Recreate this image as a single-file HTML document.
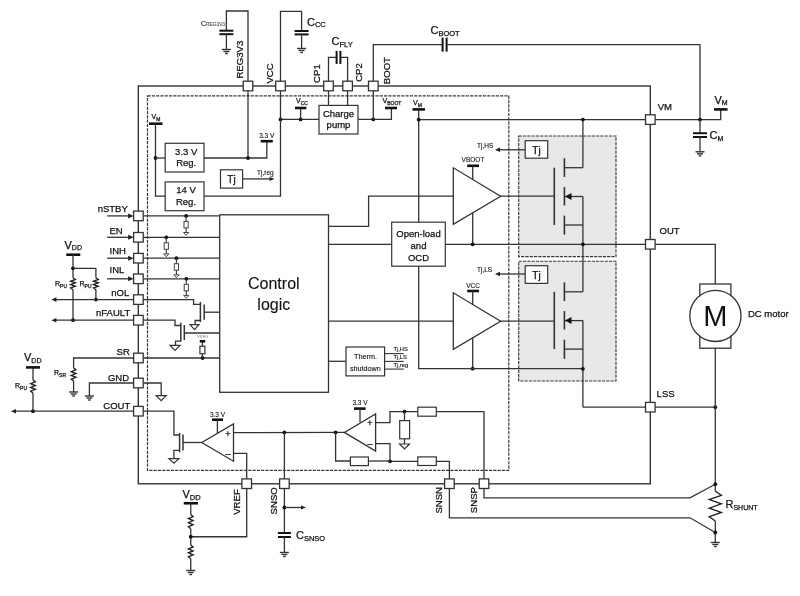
<!DOCTYPE html>
<html><head><meta charset="utf-8"><style>
html,body{margin:0;padding:0;background:#fff;width:800px;height:596px;overflow:hidden}
svg{display:block}
text{font-family:"Liberation Sans",sans-serif;stroke:#111;stroke-width:0.25px}
svg{will-change:transform}
</style></head><body>
<svg width="800" height="596" viewBox="0 0 800 596">
<rect x="518.7" y="136" width="97.29999999999995" height="120.60000000000002" fill="#e8e8e8" stroke="#3a3a3a" stroke-width="1.15" stroke-dasharray="3.2,1.1"/>
<rect x="518.7" y="261.2" width="97.29999999999995" height="119.80000000000001" fill="#e8e8e8" stroke="#3a3a3a" stroke-width="1.15" stroke-dasharray="3.2,1.1"/>
<rect x="147.5" y="95.8" width="361.3" height="374.59999999999997" fill="none" stroke="#3a3a3a" stroke-width="1.2" stroke-dasharray="3.2,1.1"/>
<rect x="138.3" y="86" width="511.99999999999994" height="397.8" fill="none" stroke="#333" stroke-width="1.4"/>
<polyline points="248,86 248,11 226.4,11 226.4,30.7" fill="none" stroke="#333" stroke-width="1.3"/>
<polyline points="219.4,30.7 233.4,30.7" fill="none" stroke="#111" stroke-width="2.0"/>
<polyline points="219.4,34.2 233.4,34.2" fill="none" stroke="#111" stroke-width="2.0"/>
<polyline points="226.4,34.2 226.4,49.5" fill="none" stroke="#333" stroke-width="1.3"/>
<polyline points="221.9,49.5 230.9,49.5" fill="none" stroke="#333" stroke-width="1.4"/>
<polyline points="223.43,51.5 229.37,51.5" fill="none" stroke="#333" stroke-width="1.4"/>
<polyline points="225.05,53.5 227.75,53.5" fill="none" stroke="#333" stroke-width="1.4"/>
<text x="201" y="26" font-size="7" text-anchor="start" fill="#111" style="stroke-width:0.1px">C<tspan font-size="4.8" dy="0" fill="#666">REG3V3</tspan></text>
<polyline points="280.5,86 280.5,11.4 301.6,11.4 301.6,31" fill="none" stroke="#333" stroke-width="1.3"/>
<polyline points="294.6,31 308.6,31" fill="none" stroke="#111" stroke-width="2.0"/>
<polyline points="294.6,34.4 308.6,34.4" fill="none" stroke="#111" stroke-width="2.0"/>
<polyline points="301.6,34.4 301.6,48.5" fill="none" stroke="#333" stroke-width="1.3"/>
<polyline points="297.1,48.5 306.1,48.5" fill="none" stroke="#333" stroke-width="1.4"/>
<polyline points="298.63,50.5 304.57000000000005,50.5" fill="none" stroke="#333" stroke-width="1.4"/>
<polyline points="300.25,52.5 302.95000000000005,52.5" fill="none" stroke="#333" stroke-width="1.4"/>
<text x="307" y="25.5" font-size="11" text-anchor="start" fill="#111">C<tspan font-size="7.5" dy="1.5">CC</tspan></text>
<polyline points="328.5,86 328.5,57.4 336.6,57.4" fill="none" stroke="#333" stroke-width="1.3"/>
<polyline points="336.6,50.9 336.6,63.9" fill="none" stroke="#111" stroke-width="2.0"/>
<polyline points="340.4,50.9 340.4,63.9" fill="none" stroke="#111" stroke-width="2.0"/>
<polyline points="340.4,57.4 347.6,57.4 347.6,86" fill="none" stroke="#333" stroke-width="1.3"/>
<text x="331.5" y="45.3" font-size="11" text-anchor="start" fill="#111">C<tspan font-size="7.5" dy="1.5">FLY</tspan></text>
<polyline points="373.3,86 373.3,44.6 442.6,44.6" fill="none" stroke="#333" stroke-width="1.3"/>
<polyline points="442.6,37.6 442.6,51.6" fill="none" stroke="#111" stroke-width="2.0"/>
<polyline points="446.6,37.6 446.6,51.6" fill="none" stroke="#111" stroke-width="2.0"/>
<polyline points="446.6,44.6 700,44.6 700,119.6" fill="none" stroke="#333" stroke-width="1.3"/>
<text x="430.5" y="33.5" font-size="11" text-anchor="start" fill="#111">C<tspan font-size="7.5" dy="2">BOOT</tspan></text>
<rect x="319" y="105.4" width="39" height="28.599999999999994" fill="#fff" stroke="#333" stroke-width="1.2"/>
<text x="338.5" y="117" font-size="9.5" text-anchor="middle" fill="#111" style="stroke-width:0.25px">Charge</text>
<text x="338.5" y="128.3" font-size="9.5" text-anchor="middle" fill="#111" style="stroke-width:0.25px">pump</text>
<polyline points="328.5,86 328.5,105.4" fill="none" stroke="#333" stroke-width="1.3"/>
<polyline points="347.6,86 347.6,105.4" fill="none" stroke="#333" stroke-width="1.3"/>
<polyline points="280.5,119.4 319,119.4" fill="none" stroke="#333" stroke-width="1.3"/>
<circle cx="280.5" cy="119.4" r="1.9" fill="#111"/>
<circle cx="300.6" cy="119.4" r="1.9" fill="#111"/>
<polyline points="300.6,119.4 300.6,108" fill="none" stroke="#333" stroke-width="1.3"/>
<polyline points="295,108 306.4,108" fill="none" stroke="#111" stroke-width="2.6"/>
<text x="296" y="103" font-size="7" text-anchor="start" fill="#111">V<tspan font-size="5" dy="2">CC</tspan></text>
<polyline points="358,119.4 391.4,119.4 391.4,108" fill="none" stroke="#333" stroke-width="1.3"/>
<polyline points="385,108 397,108" fill="none" stroke="#111" stroke-width="2.6"/>
<circle cx="373.3" cy="119.4" r="1.9" fill="#111"/>
<text x="382.5" y="103" font-size="7" text-anchor="start" fill="#111">V<tspan font-size="5" dy="2">BOOT</tspan></text>
<polyline points="373.3,86 373.3,119.4" fill="none" stroke="#333" stroke-width="1.3"/>
<polyline points="412.5,109.4 425,109.4" fill="none" stroke="#111" stroke-width="2.6"/>
<text x="413" y="104.5" font-size="7" text-anchor="start" fill="#111">V<tspan font-size="5" dy="2">M</tspan></text>
<polyline points="418.7,109.4 418.7,222.4" fill="none" stroke="#333" stroke-width="1.3"/>
<polyline points="418.7,119.6 650.3,119.6" fill="none" stroke="#333" stroke-width="1.3"/>
<circle cx="418.7" cy="119.6" r="1.9" fill="#111"/>
<polyline points="650.3,119.6 720.7,119.6 720.7,109.4" fill="none" stroke="#333" stroke-width="1.3"/>
<polyline points="714,109.4 727.5,109.4" fill="none" stroke="#111" stroke-width="2.6"/>
<circle cx="700" cy="119.6" r="1.9" fill="#111"/>
<text x="714.5" y="103.5" font-size="11" text-anchor="start" fill="#111">V<tspan font-size="7" dy="1.5">M</tspan></text>
<polyline points="700,119.6 700,133.2" fill="none" stroke="#333" stroke-width="1.3"/>
<polyline points="693.0,133.2 707.0,133.2" fill="none" stroke="#111" stroke-width="2.0"/>
<polyline points="693.0,137 707.0,137" fill="none" stroke="#111" stroke-width="2.0"/>
<polyline points="700,137 700,151.8" fill="none" stroke="#333" stroke-width="1.3"/>
<polyline points="695.5,151.8 704.5,151.8" fill="none" stroke="#333" stroke-width="1.4"/>
<polyline points="697.03,153.8 702.97,153.8" fill="none" stroke="#333" stroke-width="1.4"/>
<polyline points="698.65,155.8 701.35,155.8" fill="none" stroke="#333" stroke-width="1.4"/>
<text x="709.5" y="139" font-size="11" text-anchor="start" fill="#111">C<tspan font-size="7" dy="1.5">M</tspan></text>
<polyline points="280.5,86 280.5,196.2 204,196.2" fill="none" stroke="#333" stroke-width="1.3"/>
<polyline points="248,86 248,158" fill="none" stroke="#333" stroke-width="1.3"/>
<polyline points="149,123.7 162.5,123.7" fill="none" stroke="#111" stroke-width="2.6"/>
<text x="151.5" y="118.5" font-size="7" text-anchor="start" fill="#111">V<tspan font-size="5" dy="2">M</tspan></text>
<polyline points="155.5,123.7 155.5,196.2 165.2,196.2" fill="none" stroke="#333" stroke-width="1.3"/>
<circle cx="155.5" cy="158" r="1.9" fill="#111"/>
<polyline points="155.5,158 165.2,158" fill="none" stroke="#333" stroke-width="1.3"/>
<rect x="165.2" y="143.3" width="38.80000000000001" height="28.69999999999999" fill="#fff" stroke="#333" stroke-width="1.2"/>
<text x="186.2" y="154.7" font-size="9.5" text-anchor="middle" fill="#111" style="stroke-width:0.25px">3.3 V</text>
<text x="186.2" y="166.4" font-size="9.5" text-anchor="middle" fill="#111" style="stroke-width:0.25px">Reg.</text>
<rect x="165.2" y="181.9" width="38.80000000000001" height="28.799999999999983" fill="#fff" stroke="#333" stroke-width="1.2"/>
<text x="186" y="193.2" font-size="9.5" text-anchor="middle" fill="#111" style="stroke-width:0.25px">14 V</text>
<text x="186" y="205.4" font-size="9.5" text-anchor="middle" fill="#111" style="stroke-width:0.25px">Reg.</text>
<polyline points="204,158 266.8,158 266.8,141.2" fill="none" stroke="#333" stroke-width="1.3"/>
<circle cx="248" cy="158" r="1.9" fill="#111"/>
<polyline points="260.7,141.2 272.8,141.2" fill="none" stroke="#111" stroke-width="2.6"/>
<text x="266.8" y="138.2" font-size="6.5" text-anchor="middle" fill="#111" style="stroke-width:0.12px">3.3 V</text>
<rect x="220.5" y="169.8" width="22.099999999999994" height="18.299999999999983" fill="#fff" stroke="#333" stroke-width="1.2"/>
<text x="231.5" y="183" font-size="10" text-anchor="middle" fill="#111" style="stroke-width:0.25px">Tj</text>
<polyline points="242.6,178.9 270,178.9" fill="none" stroke="#333" stroke-width="1.3"/>
<polygon points="274.5,178.9 269.5,176.9 269.5,180.9" fill="#222"/>
<text x="257" y="174.5" font-size="6.5" text-anchor="start" fill="#111" style="stroke-width:0.12px">Tj,reg</text>
<polyline points="107.2,215.9 129,215.9" fill="none" stroke="#333" stroke-width="1.3"/>
<polygon points="133.6,215.9 128.1,213.4 128.1,218.4" fill="#222"/>
<polyline points="107.2,237.3 129,237.3" fill="none" stroke="#333" stroke-width="1.3"/>
<polygon points="133.6,237.3 128.1,234.8 128.1,239.8" fill="#222"/>
<polyline points="107.2,258.2 129,258.2" fill="none" stroke="#333" stroke-width="1.3"/>
<polygon points="133.6,258.2 128.1,255.7 128.1,260.7" fill="#222"/>
<polyline points="107.2,278.8 129,278.8" fill="none" stroke="#333" stroke-width="1.3"/>
<polygon points="133.6,278.8 128.1,276.3 128.1,281.3" fill="#222"/>
<polyline points="143.20000000000002,215.9 219.7,215.9" fill="none" stroke="#333" stroke-width="1.3"/>
<polyline points="143.20000000000002,237.3 219.7,237.3" fill="none" stroke="#333" stroke-width="1.3"/>
<polyline points="143.20000000000002,258.2 219.7,258.2" fill="none" stroke="#333" stroke-width="1.3"/>
<polyline points="143.20000000000002,278.8 219.7,278.8" fill="none" stroke="#333" stroke-width="1.3"/>
<polyline points="143.20000000000002,358 219.7,358" fill="none" stroke="#333" stroke-width="1.3"/>
<circle cx="186.1" cy="215.9" r="1.9" fill="#111"/>
<polyline points="186.1,215.9 186.1,221.4" fill="none" stroke="#333" stroke-width="1.1"/>
<rect x="184.0" y="221.4" width="4.199999999999989" height="6.5" fill="#fff" stroke="#444" stroke-width="1.0"/>
<polyline points="186.1,227.9 186.1,232.9" fill="none" stroke="#333" stroke-width="1.1"/>
<polygon points="183.5,232.5 188.7,232.5 186.1,235.3" fill="#fff" stroke="#444" stroke-width="1"/>
<circle cx="166.3" cy="237.3" r="1.9" fill="#111"/>
<polyline points="166.3,237.3 166.3,242.8" fill="none" stroke="#333" stroke-width="1.1"/>
<rect x="164.20000000000002" y="242.8" width="4.199999999999989" height="6.5" fill="#fff" stroke="#444" stroke-width="1.0"/>
<polyline points="166.3,249.3 166.3,254.3" fill="none" stroke="#333" stroke-width="1.1"/>
<polygon points="163.70000000000002,253.9 168.9,253.9 166.3,256.7" fill="#fff" stroke="#444" stroke-width="1"/>
<circle cx="176.4" cy="258.2" r="1.9" fill="#111"/>
<polyline points="176.4,258.2 176.4,263.7" fill="none" stroke="#333" stroke-width="1.1"/>
<rect x="174.3" y="263.7" width="4.199999999999989" height="6.5" fill="#fff" stroke="#444" stroke-width="1.0"/>
<polyline points="176.4,270.2 176.4,275.2" fill="none" stroke="#333" stroke-width="1.1"/>
<polygon points="173.8,274.8 179.0,274.8 176.4,277.59999999999997" fill="#fff" stroke="#444" stroke-width="1"/>
<circle cx="186.3" cy="278.8" r="1.9" fill="#111"/>
<polyline points="186.3,278.8 186.3,284.3" fill="none" stroke="#333" stroke-width="1.1"/>
<rect x="184.20000000000002" y="284.3" width="4.199999999999989" height="6.5" fill="#fff" stroke="#444" stroke-width="1.0"/>
<polyline points="186.3,290.8 186.3,295.8" fill="none" stroke="#333" stroke-width="1.1"/>
<polygon points="183.70000000000002,295.40000000000003 188.9,295.40000000000003 186.3,298.2" fill="#fff" stroke="#444" stroke-width="1"/>
<polyline points="143.20000000000002,299.6 193.6,299.6 193.6,304.3 200.4,304.3" fill="none" stroke="#333" stroke-width="1.3"/>
<polyline points="200.4,302 200.4,322" fill="none" stroke="#333" stroke-width="1.5"/>
<polyline points="204.2,304.6 204.2,319.7" fill="none" stroke="#333" stroke-width="1.5"/>
<polyline points="204.2,312.2 219.7,312.2" fill="none" stroke="#333" stroke-width="1.3"/>
<polyline points="200.4,320.5 195.1,320.5 195.1,324.6" fill="none" stroke="#333" stroke-width="1.3"/>
<polygon points="190.0,324.6 199.0,324.6 194.5,329.6" fill="#fff" stroke="#333" stroke-width="1.2"/>
<polyline points="143.20000000000002,320.2 175,320.2 175,325.5 180.8,325.5" fill="none" stroke="#333" stroke-width="1.3"/>
<polyline points="180.8,322.8 180.8,341.6" fill="none" stroke="#333" stroke-width="1.5"/>
<polyline points="184.3,325 184.3,340" fill="none" stroke="#333" stroke-width="1.5"/>
<polyline points="184.3,333 219.7,333" fill="none" stroke="#333" stroke-width="1.3"/>
<polyline points="180.8,341.2 175.5,341.2 175.5,345.4" fill="none" stroke="#333" stroke-width="1.3"/>
<polygon points="170.0,345.4 180.0,345.4 175,350.4" fill="#fff" stroke="#333" stroke-width="1.2"/>
<circle cx="202.6" cy="358" r="1.9" fill="#111"/>
<polyline points="202.4,341.3 202.4,346.2" fill="none" stroke="#333" stroke-width="1.3"/>
<rect x="199.9" y="346.25" width="5.0" height="7.5" fill="#fff" stroke="#333" stroke-width="1.2"/>
<polyline points="202.4,353.7 202.4,358" fill="none" stroke="#333" stroke-width="1.3"/>
<polyline points="199.7,341.3 205.3,341.3" fill="none" stroke="#111" stroke-width="2.5"/>
<text x="202.8" y="337.5" font-size="4" text-anchor="middle" fill="#888" style="stroke-width:0px">VREG</text>
<polyline points="143.20000000000002,383 161.2,383 161.2,395.7" fill="none" stroke="#333" stroke-width="1.3"/>
<polygon points="156.2,395.7 166.2,395.7 161.2,400.7" fill="#fff" stroke="#333" stroke-width="1.2"/>
<polyline points="143.20000000000002,411.2 173.9,411.2 173.9,435 179.6,435" fill="none" stroke="#333" stroke-width="1.3"/>
<polyline points="179.6,433 179.6,452.3" fill="none" stroke="#333" stroke-width="1.5"/>
<polyline points="183,434.5 183,450.4" fill="none" stroke="#333" stroke-width="1.5"/>
<polyline points="183,442.5 201.8,442.5" fill="none" stroke="#333" stroke-width="1.3"/>
<polyline points="179.6,450.4 173.9,450.4 173.9,458.7" fill="none" stroke="#333" stroke-width="1.3"/>
<polygon points="168.9,458.7 178.9,458.7 173.9,463.2" fill="#fff" stroke="#333" stroke-width="1.2"/>
<polygon points="233.5,424 233.5,461.2 201.8,442.5" fill="#fff" stroke="#333" stroke-width="1.3"/>
<text x="228" y="436.5" font-size="9" text-anchor="middle" fill="#111" style="stroke-width:0.25px">+</text>
<text x="228" y="456.5" font-size="9" text-anchor="middle" fill="#111" style="stroke-width:0.25px">–</text>
<polyline points="212,419.7 223,419.7" fill="none" stroke="#111" stroke-width="2.6"/>
<polyline points="217.4,419.7 217.4,433.4" fill="none" stroke="#333" stroke-width="1.3"/>
<text x="217.5" y="416.5" font-size="6.5" text-anchor="middle" fill="#111" style="stroke-width:0.12px">3.3 V</text>
<polyline points="233.5,432.6 344.4,432.4" fill="none" stroke="#333" stroke-width="1.3"/>
<circle cx="284.4" cy="432.5" r="1.9" fill="#111"/>
<circle cx="335.6" cy="432.4" r="1.9" fill="#111"/>
<polyline points="233.5,453.4 246.7,453.4 246.7,483.7" fill="none" stroke="#333" stroke-width="1.3"/>
<polyline points="284.4,432.5 284.4,533" fill="none" stroke="#333" stroke-width="1.3"/>
<polygon points="375.6,414 375.6,451 344.4,432.4" fill="#fff" stroke="#333" stroke-width="1.3"/>
<text x="370" y="426" font-size="9" text-anchor="middle" fill="#111" style="stroke-width:0.25px">+</text>
<text x="370" y="447" font-size="9" text-anchor="middle" fill="#111" style="stroke-width:0.25px">–</text>
<polyline points="354,408.6 365.6,408.6" fill="none" stroke="#111" stroke-width="2.6"/>
<polyline points="360,408.6 360,422" fill="none" stroke="#333" stroke-width="1.3"/>
<text x="360" y="405" font-size="6.5" text-anchor="middle" fill="#111" style="stroke-width:0.12px">3.3 V</text>
<polyline points="375.6,422.6 390,422.6 390,411.6 417.8,411.6" fill="none" stroke="#333" stroke-width="1.3"/>
<rect x="417.8" y="407.2" width="18.5" height="9.0" fill="#fff" stroke="#333" stroke-width="1.2"/>
<polyline points="436.3,411.6 484,411.6 484,497.8 690,497.8 715.3,484.2" fill="none" stroke="#333" stroke-width="1.3"/>
<circle cx="404.5" cy="411.6" r="1.9" fill="#111"/>
<polyline points="404.5,411.6 404.5,420.6" fill="none" stroke="#333" stroke-width="1.3"/>
<rect x="399.7" y="420.6" width="9.900000000000034" height="18.19999999999999" fill="#fff" stroke="#333" stroke-width="1.2"/>
<polyline points="404.5,438.8 404.5,444" fill="none" stroke="#333" stroke-width="1.3"/>
<polygon points="399.5,444 409.5,444 404.5,449" fill="#fff" stroke="#333" stroke-width="1.2"/>
<polyline points="375.6,443.6 390,443.6 390,461.3 417.8,461.3" fill="none" stroke="#333" stroke-width="1.3"/>
<circle cx="390" cy="461.3" r="1.9" fill="#111"/>
<rect x="417.8" y="456.9" width="18.5" height="8.600000000000023" fill="#fff" stroke="#333" stroke-width="1.2"/>
<polyline points="436.3,461.3 449.4,461.3 449.4,517.8 690,517.8 715.3,532.5" fill="none" stroke="#333" stroke-width="1.3"/>
<polyline points="335.6,432.4 335.6,461 350.4,461" fill="none" stroke="#333" stroke-width="1.3"/>
<rect x="350.4" y="457" width="18.0" height="8.600000000000023" fill="#fff" stroke="#333" stroke-width="1.2"/>
<polyline points="368.4,461 390,461" fill="none" stroke="#333" stroke-width="1.3"/>
<rect x="219.7" y="214.8" width="108.80000000000001" height="177.5" fill="#fff" stroke="#333" stroke-width="1.3"/>
<text x="273.8" y="289.3" font-size="16" text-anchor="middle" fill="#111" style="stroke-width:0.1px">Control</text>
<text x="273.8" y="310" font-size="16" text-anchor="middle" fill="#111" style="stroke-width:0.1px">logic</text>
<polyline points="328.5,226.4 368.6,226.4 368.6,196.2 453.3,196.2" fill="none" stroke="#333" stroke-width="1.3"/>
<polyline points="328.5,244.3 391.7,244.3" fill="none" stroke="#333" stroke-width="1.3"/>
<rect x="391.7" y="222.2" width="53.60000000000002" height="44.0" fill="#fff" stroke="#333" stroke-width="1.2"/>
<text x="418.5" y="237" font-size="9.5" text-anchor="middle" fill="#111" style="stroke-width:0.25px">Open-load</text>
<text x="418.5" y="249" font-size="9.5" text-anchor="middle" fill="#111" style="stroke-width:0.25px">and</text>
<text x="418.5" y="260.8" font-size="9.5" text-anchor="middle" fill="#111" style="stroke-width:0.25px">OCD</text>
<polyline points="445.3,244.3 650.3,244.3" fill="none" stroke="#333" stroke-width="1.3"/>
<polyline points="328.5,321.2 453.3,321.2" fill="none" stroke="#333" stroke-width="1.3"/>
<polyline points="328.5,361.3 346,361.3" fill="none" stroke="#333" stroke-width="1.3"/>
<rect x="346" y="347" width="38.60000000000002" height="28.899999999999977" fill="#fff" stroke="#333" stroke-width="1.2"/>
<text x="365.5" y="358.8" font-size="7.3" text-anchor="middle" fill="#111" style="stroke-width:0.12px">Therm.</text>
<text x="365.3" y="371" font-size="7.2" text-anchor="middle" fill="#111" style="stroke-width:0.12px">shutdown</text>
<polyline points="384.6,353.6 403.75,353.6" fill="none" stroke="#333" stroke-width="1.1"/>
<text x="393.4" y="351.0" font-size="5.8" text-anchor="start" fill="#111" style="stroke-width:0.12px">Tj,HS</text>
<polyline points="384.6,361.4 403.75,361.4" fill="none" stroke="#333" stroke-width="1.1"/>
<text x="393.4" y="358.79999999999995" font-size="5.8" text-anchor="start" fill="#111" style="stroke-width:0.12px">Tj,LS</text>
<polyline points="384.6,369.1 403.75,369.1" fill="none" stroke="#333" stroke-width="1.1"/>
<text x="393.4" y="366.5" font-size="5.8" text-anchor="start" fill="#111" style="stroke-width:0.12px">Tj,reg</text>
<polygon points="453.3,167.8 453.3,224.4 500.6,196.2" fill="#fff" stroke="#333" stroke-width="1.3"/>
<polyline points="500.6,196.2 554.3,196.2" fill="none" stroke="#333" stroke-width="1.3"/>
<polyline points="467.2,165.8 479,165.8" fill="none" stroke="#111" stroke-width="2.6"/>
<polyline points="472.7,165.8 472.7,179.5" fill="none" stroke="#333" stroke-width="1.3"/>
<polyline points="472.7,212.8 472.7,244.3" fill="none" stroke="#333" stroke-width="1.3"/>
<circle cx="472.7" cy="244.3" r="1.9" fill="#111"/>
<text x="473" y="162.3" font-size="6.5" text-anchor="middle" fill="#111" style="stroke-width:0.12px">VBOOT</text>
<polyline points="499,149.8 525.2,149.8" fill="none" stroke="#333" stroke-width="1.3"/>
<polygon points="495,149.8 500,147.60000000000002 500,152.0" fill="#222"/>
<text x="477" y="148" font-size="6.5" text-anchor="start" fill="#111" style="stroke-width:0.12px">Tj,HS</text>
<polygon points="453.3,292.8 453.3,349.4 500.6,321.2" fill="#fff" stroke="#333" stroke-width="1.3"/>
<polyline points="500.6,321.2 554.3,321.2" fill="none" stroke="#333" stroke-width="1.3"/>
<polyline points="467.2,291 479,291" fill="none" stroke="#111" stroke-width="2.6"/>
<polyline points="472.7,291 472.7,304.5" fill="none" stroke="#333" stroke-width="1.3"/>
<polyline points="472.7,337.8 472.7,368.7" fill="none" stroke="#333" stroke-width="1.3"/>
<circle cx="472.7" cy="368.7" r="1.9" fill="#111"/>
<text x="473" y="287.5" font-size="6.5" text-anchor="middle" fill="#111" style="stroke-width:0.12px">VCC</text>
<polyline points="418.7,265.9 418.7,368.7 582.9,368.7" fill="none" stroke="#333" stroke-width="1.3"/>
<polyline points="499,274 525.2,274" fill="none" stroke="#333" stroke-width="1.3"/>
<polygon points="495,274 500,271.8 500,276.2" fill="#222"/>
<text x="477" y="271.5" font-size="6.5" text-anchor="start" fill="#111" style="stroke-width:0.12px">Tj,LS</text>
<rect x="525.2" y="140.7" width="22.5" height="17.5" fill="#fff" stroke="#333" stroke-width="1.2"/>
<text x="536.5" y="154" font-size="10" text-anchor="middle" fill="#111" style="stroke-width:0.25px">Tj</text>
<rect x="525.2" y="265.7" width="22.5" height="17.69999999999999" fill="#fff" stroke="#333" stroke-width="1.2"/>
<text x="536.5" y="279" font-size="10" text-anchor="middle" fill="#111" style="stroke-width:0.25px">Tj</text>
<polyline points="582.9,119.6 582.9,167.7" fill="none" stroke="#333" stroke-width="1.3"/>
<polyline points="582.9,196.5 582.9,244.3" fill="none" stroke="#333" stroke-width="1.3"/>
<polyline points="564.4,167.7 582.9,167.7" fill="none" stroke="#333" stroke-width="1.3"/>
<polyline points="564.4,158.2 564.4,177" fill="none" stroke="#333" stroke-width="1.6"/>
<polyline points="564.4,187 564.4,205.5" fill="none" stroke="#333" stroke-width="1.6"/>
<polyline points="564.4,215.6 564.4,234.7" fill="none" stroke="#333" stroke-width="1.6"/>
<polyline points="554.3,167.7 554.3,225" fill="none" stroke="#333" stroke-width="1.6"/>
<polyline points="564.4,196.5 582.9,196.5" fill="none" stroke="#333" stroke-width="1.3"/>
<polygon points="565,196.5 571.5,193 571.5,200" fill="#111"/>
<polyline points="564.4,225 582.9,225" fill="none" stroke="#333" stroke-width="1.3"/>
<polyline points="582.9,244.3 582.9,291.8" fill="none" stroke="#333" stroke-width="1.3"/>
<polyline points="582.9,320.6 582.9,407.2" fill="none" stroke="#333" stroke-width="1.3"/>
<polyline points="564.4,291.79999999999995 582.9,291.79999999999995" fill="none" stroke="#333" stroke-width="1.3"/>
<polyline points="564.4,282.29999999999995 564.4,301.1" fill="none" stroke="#333" stroke-width="1.6"/>
<polyline points="564.4,311.1 564.4,329.6" fill="none" stroke="#333" stroke-width="1.6"/>
<polyline points="564.4,339.7 564.4,358.79999999999995" fill="none" stroke="#333" stroke-width="1.6"/>
<polyline points="554.3,291.79999999999995 554.3,349.1" fill="none" stroke="#333" stroke-width="1.6"/>
<polyline points="564.4,320.6 582.9,320.6" fill="none" stroke="#333" stroke-width="1.3"/>
<polygon points="565,320.6 571.5,317.1 571.5,324.1" fill="#111"/>
<polyline points="564.4,349.1 582.9,349.1" fill="none" stroke="#333" stroke-width="1.3"/>
<circle cx="582.9" cy="119.6" r="1.9" fill="#111"/>
<circle cx="582.9" cy="244.3" r="1.9" fill="#111"/>
<circle cx="582.9" cy="368.8" r="1.9" fill="#111"/>
<polyline points="582.9,407.2 715.3,407.2" fill="none" stroke="#333" stroke-width="1.3"/>
<circle cx="715.3" cy="407.2" r="1.9" fill="#111"/>
<polyline points="650.3,244.3 715.3,244.3 715.3,284" fill="none" stroke="#333" stroke-width="1.3"/>
<rect x="699.8" y="284" width="31.100000000000023" height="64.19999999999999" fill="#fff" stroke="#333" stroke-width="1.3"/>
<circle cx="715.4" cy="315.9" r="25.6" fill="#fff" stroke="#333" stroke-width="1.3"/>
<text x="715.4" y="326" font-size="29" text-anchor="middle" fill="#111" style="stroke-width:0px">M</text>
<text x="748" y="317.2" font-size="9.5" text-anchor="start" fill="#111" style="stroke-width:0.25px">DC motor</text>
<polyline points="715.3,348.2 715.3,491" fill="none" stroke="#333" stroke-width="1.3"/>
<polyline points="715.3,491 721.3,495.28571428571433 709.3,499.5714285714286 721.3,503.8571428571429 709.3,508.14285714285717 721.3,512.4285714285714 709.3,516.7142857142857 715.3,521" fill="none" stroke="#222" stroke-width="1.4"/>
<polyline points="715.3,521 715.3,542.5" fill="none" stroke="#333" stroke-width="1.3"/>
<polyline points="710.8,542.5 719.8,542.5" fill="none" stroke="#333" stroke-width="1.4"/>
<polyline points="712.3299999999999,544.5 718.27,544.5" fill="none" stroke="#333" stroke-width="1.4"/>
<polyline points="713.9499999999999,546.5 716.65,546.5" fill="none" stroke="#333" stroke-width="1.4"/>
<circle cx="715.3" cy="484.2" r="1.9" fill="#111"/>
<circle cx="715.3" cy="532.5" r="1.9" fill="#111"/>
<text x="725.5" y="507.5" font-size="11" text-anchor="start" fill="#111">R<tspan font-size="7" dy="2">SHUNT</tspan></text>
<polyline points="246.7,483.7 246.7,536.75 190.75,536.75" fill="none" stroke="#333" stroke-width="1.3"/>
<polyline points="183.75,503.25 198,503.25" fill="none" stroke="#111" stroke-width="2.6"/>
<text x="182.5" y="498" font-size="11" text-anchor="start" fill="#111">V<tspan font-size="7.5" dy="2">DD</tspan></text>
<polyline points="190.75,503.25 190.75,514.5" fill="none" stroke="#333" stroke-width="1.3"/>
<polyline points="190.75,514.5 193.05,516.5357142857142 188.45,518.5714285714286 193.05,520.6071428571428 188.45,522.6428571428571 193.05,524.6785714285714 188.45,526.7142857142857 190.75,528.75" fill="none" stroke="#222" stroke-width="1.4"/>
<polyline points="190.75,528.75 190.75,545" fill="none" stroke="#333" stroke-width="1.3"/>
<polyline points="190.75,545 193.05,546.9642857142858 188.45,548.9285714285714 193.05,550.8928571428572 188.45,552.8571428571429 193.05,554.8214285714286 188.45,556.7857142857143 190.75,558.75" fill="none" stroke="#222" stroke-width="1.4"/>
<polyline points="190.75,558.75 190.75,570.5" fill="none" stroke="#333" stroke-width="1.3"/>
<polyline points="186.25,570.5 195.25,570.5" fill="none" stroke="#333" stroke-width="1.4"/>
<polyline points="187.78,572.5 193.72,572.5" fill="none" stroke="#333" stroke-width="1.4"/>
<polyline points="189.4,574.5 192.1,574.5" fill="none" stroke="#333" stroke-width="1.4"/>
<circle cx="190.75" cy="536.75" r="1.9" fill="#111"/>
<circle cx="284.4" cy="507.5" r="1.9" fill="#111"/>
<polyline points="284.4,507.5 301,507.5" fill="none" stroke="#333" stroke-width="1.3"/>
<polygon points="306,507.5 301,505.5 301,509.5" fill="#222"/>
<polyline points="277.9,533 290.9,533" fill="none" stroke="#111" stroke-width="2.0"/>
<polyline points="277.9,537 290.9,537" fill="none" stroke="#111" stroke-width="2.0"/>
<polyline points="284.4,537 284.4,552.5" fill="none" stroke="#333" stroke-width="1.3"/>
<polyline points="279.9,552.5 288.9,552.5" fill="none" stroke="#333" stroke-width="1.4"/>
<polyline points="281.42999999999995,554.5 287.37,554.5" fill="none" stroke="#333" stroke-width="1.4"/>
<polyline points="283.04999999999995,556.5 285.75,556.5" fill="none" stroke="#333" stroke-width="1.4"/>
<text x="296" y="539" font-size="11" text-anchor="start" fill="#111">C<tspan font-size="7.5" dy="2">SNSO</tspan></text>
<polyline points="66.3,254.7 80.3,254.7" fill="none" stroke="#111" stroke-width="2.6"/>
<text x="64.5" y="248.5" font-size="11" text-anchor="start" fill="#111">V<tspan font-size="7" dy="1.5">DD</tspan></text>
<polyline points="73,254.7 73,277.8" fill="none" stroke="#333" stroke-width="1.3"/>
<polyline points="73,277.8 75.3,279.4857142857143 70.7,281.1714285714286 75.3,282.8571428571429 70.7,284.5428571428572 75.3,286.22857142857146 70.7,287.91428571428577 73,289.6" fill="none" stroke="#222" stroke-width="1.4"/>
<polyline points="73,289.6 73,320.2" fill="none" stroke="#333" stroke-width="1.3"/>
<circle cx="73" cy="268.3" r="1.9" fill="#111"/>
<polyline points="73,268.3 95.9,268.3 95.9,277.8" fill="none" stroke="#333" stroke-width="1.3"/>
<polyline points="95.9,277.8 98.2,279.4857142857143 93.60000000000001,281.1714285714286 98.2,282.8571428571429 93.60000000000001,284.5428571428572 98.2,286.22857142857146 93.60000000000001,287.91428571428577 95.9,289.6" fill="none" stroke="#222" stroke-width="1.4"/>
<polyline points="95.9,289.6 95.9,299.6" fill="none" stroke="#333" stroke-width="1.3"/>
<circle cx="95.9" cy="299.6" r="1.9" fill="#111"/>
<circle cx="73" cy="320.2" r="1.9" fill="#111"/>
<polyline points="55,299.6 133.6,299.6" fill="none" stroke="#333" stroke-width="1.3"/>
<polygon points="51.4,299.6 56.4,297.3 56.4,301.90000000000003" fill="#222"/>
<polyline points="55,320.2 133.6,320.2" fill="none" stroke="#333" stroke-width="1.3"/>
<polygon points="51.4,320.2 56.4,317.9 56.4,322.5" fill="#222"/>
<text x="55" y="286" font-size="7" text-anchor="start" fill="#111">R<tspan font-size="5" dy="2">PU</tspan></text>
<text x="79.5" y="286" font-size="7" text-anchor="start" fill="#111">R<tspan font-size="5" dy="2">PU</tspan></text>
<polyline points="133.6,358 73.6,358 73.6,368" fill="none" stroke="#333" stroke-width="1.3"/>
<polyline points="73.6,368 75.89999999999999,369.8571428571429 71.3,371.7142857142857 75.89999999999999,373.5714285714286 71.3,375.42857142857144 75.89999999999999,377.2857142857143 71.3,379.14285714285717 73.6,381" fill="none" stroke="#222" stroke-width="1.4"/>
<polyline points="73.6,381 73.6,392" fill="none" stroke="#333" stroke-width="1.3"/>
<polyline points="69.1,392 78.1,392" fill="none" stroke="#333" stroke-width="1.4"/>
<polyline points="70.63,394 76.57,394" fill="none" stroke="#333" stroke-width="1.4"/>
<polyline points="72.25,396 74.94999999999999,396" fill="none" stroke="#333" stroke-width="1.4"/>
<text x="54" y="375" font-size="7" text-anchor="start" fill="#111">R<tspan font-size="5" dy="2">SR</tspan></text>
<polyline points="133.6,383 89.4,383 89.4,396" fill="none" stroke="#333" stroke-width="1.3"/>
<polyline points="84.9,396 93.9,396" fill="none" stroke="#333" stroke-width="1.4"/>
<polyline points="86.43,398 92.37,398" fill="none" stroke="#333" stroke-width="1.4"/>
<polyline points="88.05000000000001,400 90.75,400" fill="none" stroke="#333" stroke-width="1.4"/>
<polyline points="15,411.2 133.6,411.2" fill="none" stroke="#333" stroke-width="1.3"/>
<polygon points="11,411.2 16,408.9 16,413.5" fill="#222"/>
<circle cx="33" cy="411.2" r="1.9" fill="#111"/>
<polyline points="33,411.2 33,393" fill="none" stroke="#333" stroke-width="1.3"/>
<polyline points="33,380 35.3,381.8571428571429 30.7,383.7142857142857 35.3,385.5714285714286 30.7,387.42857142857144 35.3,389.2857142857143 30.7,391.14285714285717 33,393" fill="none" stroke="#222" stroke-width="1.4"/>
<polyline points="33,380 33,367.4" fill="none" stroke="#333" stroke-width="1.3"/>
<polyline points="26,367.4 40,367.4" fill="none" stroke="#111" stroke-width="2.6"/>
<text x="24" y="361" font-size="11" text-anchor="start" fill="#111">V<tspan font-size="7" dy="1.5">DD</tspan></text>
<text x="15" y="388" font-size="7" text-anchor="start" fill="#111">R<tspan font-size="5" dy="2">PU</tspan></text>
<rect x="243.2" y="81.2" width="9.600000000000023" height="9.599999999999994" fill="#fff" stroke="#333" stroke-width="1.3"/>
<rect x="275.7" y="81.2" width="9.600000000000023" height="9.599999999999994" fill="#fff" stroke="#333" stroke-width="1.3"/>
<rect x="323.7" y="81.2" width="9.600000000000023" height="9.599999999999994" fill="#fff" stroke="#333" stroke-width="1.3"/>
<rect x="342.8" y="81.2" width="9.600000000000023" height="9.599999999999994" fill="#fff" stroke="#333" stroke-width="1.3"/>
<rect x="368.5" y="81.2" width="9.600000000000023" height="9.599999999999994" fill="#fff" stroke="#333" stroke-width="1.3"/>
<rect x="133.6" y="211.1" width="9.600000000000023" height="9.600000000000023" fill="#fff" stroke="#333" stroke-width="1.3"/>
<rect x="133.6" y="232.5" width="9.600000000000023" height="9.600000000000023" fill="#fff" stroke="#333" stroke-width="1.3"/>
<rect x="133.6" y="253.39999999999998" width="9.600000000000023" height="9.600000000000023" fill="#fff" stroke="#333" stroke-width="1.3"/>
<rect x="133.6" y="274.0" width="9.600000000000023" height="9.600000000000023" fill="#fff" stroke="#333" stroke-width="1.3"/>
<rect x="133.6" y="294.8" width="9.600000000000023" height="9.600000000000023" fill="#fff" stroke="#333" stroke-width="1.3"/>
<rect x="133.6" y="315.4" width="9.600000000000023" height="9.600000000000023" fill="#fff" stroke="#333" stroke-width="1.3"/>
<rect x="133.6" y="353.2" width="9.600000000000023" height="9.600000000000023" fill="#fff" stroke="#333" stroke-width="1.3"/>
<rect x="133.6" y="378.2" width="9.600000000000023" height="9.600000000000023" fill="#fff" stroke="#333" stroke-width="1.3"/>
<rect x="133.6" y="406.4" width="9.600000000000023" height="9.600000000000023" fill="#fff" stroke="#333" stroke-width="1.3"/>
<rect x="645.5" y="114.8" width="9.599999999999909" height="9.599999999999994" fill="#fff" stroke="#333" stroke-width="1.3"/>
<rect x="645.5" y="239.5" width="9.599999999999909" height="9.600000000000023" fill="#fff" stroke="#333" stroke-width="1.3"/>
<rect x="645.5" y="402.4" width="9.599999999999909" height="9.600000000000023" fill="#fff" stroke="#333" stroke-width="1.3"/>
<rect x="241.89999999999998" y="478.9" width="9.600000000000023" height="9.600000000000023" fill="#fff" stroke="#333" stroke-width="1.3"/>
<rect x="279.59999999999997" y="478.9" width="9.600000000000023" height="9.600000000000023" fill="#fff" stroke="#333" stroke-width="1.3"/>
<rect x="444.59999999999997" y="478.9" width="9.600000000000023" height="9.600000000000023" fill="#fff" stroke="#333" stroke-width="1.3"/>
<rect x="479.2" y="478.9" width="9.600000000000023" height="9.600000000000023" fill="#fff" stroke="#333" stroke-width="1.3"/>
<text x="242.6" y="78.6" font-size="9.6" text-anchor="start" fill="#111" style="stroke-width:0.25px" transform="rotate(-90 242.6 78.6)">REG3V3</text>
<text x="272.6" y="83.6" font-size="9.6" text-anchor="start" fill="#111" style="stroke-width:0.25px" transform="rotate(-90 272.6 83.6)">VCC</text>
<text x="320" y="82.9" font-size="9.6" text-anchor="start" fill="#111" style="stroke-width:0.25px" transform="rotate(-90 320 82.9)">CP1</text>
<text x="361.6" y="81.8" font-size="9.6" text-anchor="start" fill="#111" style="stroke-width:0.25px" transform="rotate(-90 361.6 81.8)">CP2</text>
<text x="389.6" y="84.2" font-size="9.6" text-anchor="start" fill="#111" style="stroke-width:0.25px" transform="rotate(-90 389.6 84.2)">BOOT</text>
<text x="239.9" y="514.8" font-size="9.6" text-anchor="start" fill="#111" style="stroke-width:0.25px" transform="rotate(-90 239.9 514.8)">VREF</text>
<text x="277.4" y="514.4" font-size="9.6" text-anchor="start" fill="#111" style="stroke-width:0.25px" transform="rotate(-90 277.4 514.4)">SNSO</text>
<text x="442.4" y="513.6" font-size="9.6" text-anchor="start" fill="#111" style="stroke-width:0.25px" transform="rotate(-90 442.4 513.6)">SNSN</text>
<text x="477" y="513.2" font-size="9.6" text-anchor="start" fill="#111" style="stroke-width:0.25px" transform="rotate(-90 477 513.2)">SNSP</text>
<text x="127.8" y="212.2" font-size="9.5" text-anchor="end" fill="#111" style="stroke-width:0.25px">nSTBY</text>
<text x="109.5" y="234" font-size="9.5" text-anchor="start" fill="#111" style="stroke-width:0.25px">EN</text>
<text x="109.5" y="254" font-size="9.5" text-anchor="start" fill="#111" style="stroke-width:0.25px">INH</text>
<text x="109.5" y="272.8" font-size="9.5" text-anchor="start" fill="#111" style="stroke-width:0.25px">INL</text>
<text x="129.3" y="296" font-size="9.5" text-anchor="end" fill="#111" style="stroke-width:0.25px">nOL</text>
<text x="130.2" y="316.3" font-size="9.5" text-anchor="end" fill="#111" style="stroke-width:0.25px">nFAULT</text>
<text x="129.8" y="354.5" font-size="9.5" text-anchor="end" fill="#111" style="stroke-width:0.25px">SR</text>
<text x="129" y="380.8" font-size="9.5" text-anchor="end" fill="#111" style="stroke-width:0.25px">GND</text>
<text x="130.2" y="408.5" font-size="9.5" text-anchor="end" fill="#111" style="stroke-width:0.25px">COUT</text>
<text x="657.7" y="109.8" font-size="9.5" text-anchor="start" fill="#111" style="stroke-width:0.25px">VM</text>
<text x="659.6" y="234.1" font-size="9.5" text-anchor="start" fill="#111" style="stroke-width:0.25px">OUT</text>
<text x="656.6" y="396.8" font-size="9.5" text-anchor="start" fill="#111" style="stroke-width:0.25px">LSS</text>
</svg></body></html>
